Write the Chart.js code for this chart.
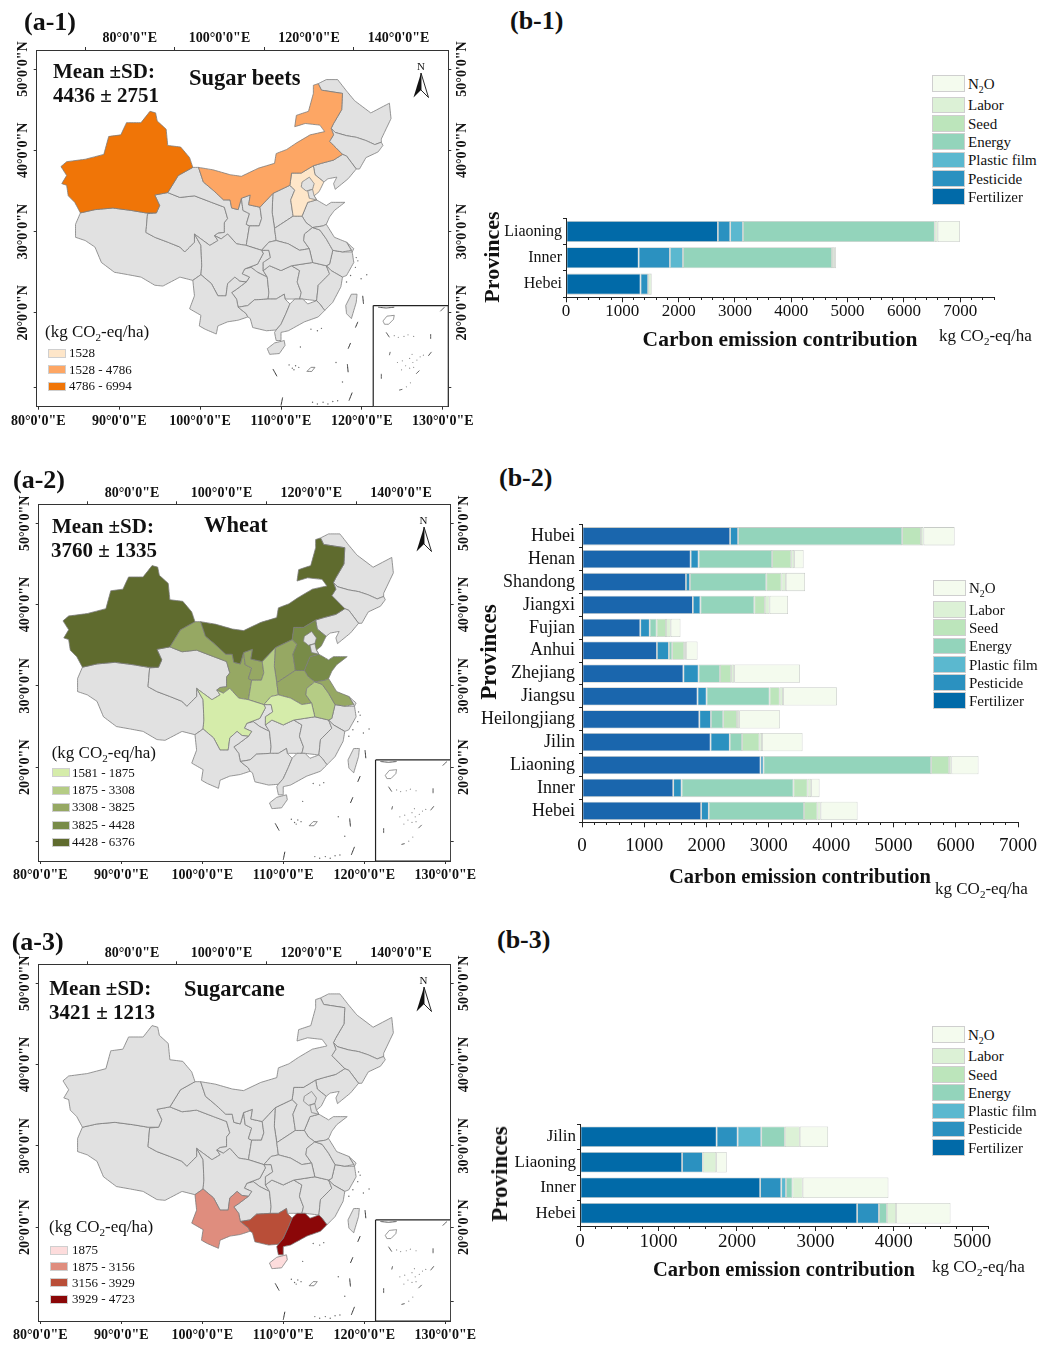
<!DOCTYPE html>
<html lang="en">
<head>
    <meta charset="UTF-8">
    <title>Carbon emission maps and contributions</title>
    <script src="https://cdn.jsdelivr.net/npm/chart.js"></script>
    <style>
        body { margin: 0; background: #fff; }
        #page { position: relative; width: 1048px; height: 1348px; overflow: hidden; font-family: "Liberation Serif", serif; color: #111; }
        canvas { position: absolute; }
        .txt { position: absolute; white-space: nowrap; transform: translateY(-50%); z-index: 2; }
        .txt sub { font-size: 65%; line-height: 0; }
        .rot { transform: translate(-50%, -50%) rotate(-90deg); }
        .swatch { position: absolute; box-sizing: border-box; border: 1px solid #cfcfcf; z-index: 2; }
        svg { position: absolute; z-index: 2; }
    </style>
</head>
<body>
<div id="page"></div>
<script>
    // stacked bars, kg CO2-eq/ha
    const seriesNames = ['Fertilizer', 'Pesticide', 'Plastic film', 'Energy', 'Seed', 'Labor', 'N2O'];
    const seriesColors = ['#016aa8', '#2b91c0', '#5bb8cf', '#93d4bb', '#bce5bb', '#dcf1d6', '#f4fbee'];

    const beetProvinces = ['Liaoning', 'Inner', 'Hebei'];
    const beetFertilizer = [2697, 1290, 1323];
    const beetPesticide = [219, 555, 135];
    const beetFilm = [226, 232, 0];
    const beetEnergy = [3406, 2646, 0];
    const beetSeed = [0, 0, 0];
    const beetLabor = [52, 38, 60];
    const beetN2O = [394, 33, 10];

    const wheatProvinces = ['Hubei', 'Henan', 'Shandong', 'Jiangxi', 'Fujian', 'Anhui', 'Zhejiang', 'Jiangsu', 'Heilongjiang', 'Jilin', 'Liaoning', 'Inner', 'Hebei'];
    const wheatFertilizer = [2378, 1744, 1669, 1779, 936, 1203, 1628, 1855, 1884, 2064, 2866, 1465, 1913];
    const wheatPesticide = [128, 128, 64, 122, 151, 192, 244, 145, 186, 308, 47, 134, 122];
    const wheatFilm = [0, 0, 0, 0, 0, 0, 0, 0, 0, 0, 0, 0, 0];
    const wheatEnergy = [2634, 1180, 1226, 866, 111, 53, 343, 1012, 197, 198, 2692, 1796, 1529];
    const wheatSeed = [302, 308, 244, 169, 151, 192, 180, 162, 221, 279, 290, 227, 215];
    const wheatLabor = [41, 47, 70, 76, 75, 29, 47, 53, 35, 41, 35, 58, 52];
    const wheatN2O = [500, 151, 308, 296, 157, 186, 1058, 866, 657, 651, 436, 134, 593];

    const caneProvinces = ['Jilin', 'Liaoning', 'Inner', 'Hebei'];
    const caneFertilizer = [1741, 1301, 2296, 3532];
    const canePesticide = [268, 264, 269, 278];
    const caneFilm = [301, 0, 60, 0];
    const caneEnergy = [301, 0, 83, 102];
    const caneSeed = [0, 0, 0, 0];
    const caneLabor = [190, 171, 130, 116];
    const caneN2O = [361, 134, 1093, 694];

    // map ticks
    const lonBottomTicks = [80, 90, 100, 110, 120, 130];
    const lonTopTicks = [70, 80, 90, 100, 110, 120, 130, 140];
    const lonTopLabelled = [80, 100, 120, 140];
    const latTicks = [50, 40, 30, 20, 10.8];
    const latLabelled = [50, 40, 30, 20];

    // province outlines as lon, lat pairs on the map's plot axes
    const xinjiang = [82.8,38, 83.5,38.6, 85.8,38.9, 88.1,39.5, 88.7,41.7, 90.2,41.9, 90.9,43.4, 92.7,43.4, 93.8,44.8, 94.5,44.6, 94.7,43.6, 95.8,42.6, 96,40.6, 97.6,40.4, 98.7,39.1, 99.1,37.9, 97.3,36.9, 96,34.8, 94.4,34.5, 95,33.2, 94.6,32.3, 93.3,32.3, 91.5,32.6, 89.2,32.9, 87,32.7, 85.2,32.3, 84.5,33.6, 83.7,34.4, 83.5,35.7, 82.9,35.9, 83.5,36.9];
    const tibet = [85.2,32.3, 87,32.7, 89.2,32.9, 91.5,32.6, 93.3,32.3, 94.6,32.3, 93.5,32.2, 93.3,29.9, 94.4,29.3, 96,28.7, 97.5,28.1, 98.1,27.5, 99.3,28.7, 99.3,29.7, 100.1,28.3, 100.2,25.8, 100.1,24.7, 99.1,24, 97.5,24.4, 95.4,23.3, 94.4,23.4, 92.7,24.4, 91.1,24.7, 89.4,25, 87.8,26.2, 87,28.1, 85.8,28.9, 84.6,29.3, 84.6,30.9];
    const qinghai = [94.4,34.5, 96,34.8, 97.5,34.2, 99.3,34.4, 101.4,33.6, 103,33, 103.4,31.6, 103,31.1, 103,29.9, 102.2,29.8, 101.8,29.5, 102.2,28.9, 101.2,28.3, 100.1,29.1, 99.3,29.7, 99.3,28.7, 98.1,27.5, 97.5,28.1, 96,28.7, 94.4,29.3, 93.3,29.9, 93.5,32.2, 94.6,32.3, 95,33.2];
    const innerMongolia = [99.8,37.9, 101.6,37.6, 103.7,37, 105.1,36.8, 107.2,37.8, 109.2,38.4, 109.4,39.6, 110.7,40.1, 111.9,40.9, 113.6,41.9, 115.4,42.3, 114.8,43.1, 113,43.3, 111.7,42.9, 111.9,44.3, 113.4,44.8, 114,47, 114,48, 114.6,48.2, 115,47.4, 117.6,47, 117.5,45, 116.5,43.3, 116.2,42.7, 116.5,41.9, 116,41.1, 117.6,39.5, 116.5,38.8, 115,38.4, 114,38.1, 112.5,37.2, 111.3,37.2, 111.1,35.7, 109,34.7, 107.4,33, 106,33.3, 106.2,34.5, 105.1,34.1, 104.7,32.7, 103.9,32.9, 103.7,33.9, 102.9,33.9, 101.6,35.1, 100.4,36.1];
    const heilongjiang = [114.6,48.2, 115.6,48.7, 117,48.7, 118.1,47.3, 119.1,46.1, 121.1,44.6, 123.4,45.8, 123.6,43.9, 122.4,41.4, 122.4,41, 121.6,40.7, 120.5,41.2, 119.3,41.6, 118.1,41.8, 116.7,42.2, 116.2,42.7, 116.5,43.3, 117.5,45, 117.6,47, 115,47.4];
    const jilin = [116.2,42.7, 116.7,42.2, 118.1,41.8, 119.3,41.6, 120.5,41.2, 121.6,40.7, 122.4,41, 122.6,40.6, 122,39.8, 120.5,39.1, 119.7,37.7, 119.3,37.7, 118.1,39.3, 117.6,39.5, 116,41.1, 116.5,41.9];
    const liaoning = [114,38.1, 115,38.4, 116.5,38.8, 117.6,39.5, 118.1,39.3, 119.3,37.7, 118.3,36.5, 116.7,35.2, 116.5,35.9, 116.9,36.7, 115.8,36.5, 115.3,36.1, 114.2,37];
    const hebei = [111.3,37.2, 112.5,37.2, 114,38.1, 114.2,37, 115.3,36.1, 114.7,34.9, 114.1,34.4, 114.4,33.9, 113.3,33.6, 112.6,31.9, 111.5,31.9, 111.2,33.9, 111.7,35.1, 111.1,35.7];
    const beijing = [112.6,36.1, 113.5,36.7, 114.1,35.9, 113.9,35.2, 113.1,35, 112.5,35.5];
    const tianjin = [113.9,35.2, 114.1,34.4, 114.4,33.9, 113.5,34.1, 113.3,35];
    const shandong = [112.6,31.9, 113.3,33.6, 114.4,33.9, 115.6,33.2, 116.2,33.6, 117.9,33.6, 116.6,32.6, 116,31.8, 115.6,30.9, 115.2,30.7, 113.9,30.5, 113.1,31.1];
    const henan = [109.2,30.4, 111.5,31.9, 112.6,31.9, 113.1,31.1, 113.9,30.5, 112.9,29.7, 112.8,28.9, 113.5,27.9, 112.3,27.7, 110.9,28.5, 109.4,28.9];
    const shanxi = [109,34.7, 111.1,35.7, 111.7,35.1, 111.2,33.9, 111.5,31.9, 109.2,30.4, 108.9,32.4];
    const shaanxi = [107.4,33, 109,34.7, 108.9,32.4, 109.2,30.4, 109.4,28.9, 108.5,28.7, 107.6,27.7, 105.7,28.3, 106.1,30.7, 107.3,30.7, 107.6,31.6];
    const ningxia = [106.2,34.5, 106,33.3, 107.4,33, 107.6,31.6, 107.3,30.7, 106.1,30.7, 105.7,30.9, 106.1,32.2, 105.3,32.6, 105.1,34.1];
    const gansu = [96,34.8, 97.3,36.9, 99.1,37.9, 99.8,37.9, 100.4,36.1, 101.6,35.1, 102.9,33.9, 103.7,33.9, 103.9,32.9, 104.7,32.7, 105.1,34.1, 105.3,32.6, 106.1,32.2, 105.7,30.9, 106.1,30.7, 105.7,28.3, 104.5,28.5, 103.4,29.7, 102.6,29.1, 101.8,29.5, 102.2,29.8, 103,29.9, 103,31.1, 103.4,31.6, 103,33, 101.4,33.6, 99.3,34.4, 97.5,34.2];
    const sichuan = [99.3,29.7, 100.1,29.1, 101.2,28.3, 102.2,28.9, 101.8,29.5, 102.6,29.1, 103.4,29.7, 104.5,28.5, 105.7,28.3, 107.6,27.7, 107.8,27.3, 107.1,26, 105.5,25.4, 105.2,24.8, 106.1,24.4, 105.7,23.8, 104.9,23.9, 104.3,24.4, 103.4,23.6, 103.2,22.1, 102.2,22.1, 101.4,23.6, 100.1,24.7, 100.2,25.8, 100.1,28.3];
    const chongqing = [107.6,27.7, 108.5,27.7, 108.7,26.8, 107.8,26.2, 107.8,25.2, 108.3,24.4, 107.1,25, 106.3,25.6, 105.5,25.4, 107.1,26, 107.8,27.3];
    const hubei = [108.5,28.7, 109.4,28.9, 110.9,28.5, 112.3,27.7, 113.5,27.9, 113.9,26.2, 111.3,25.8, 110,25.2, 108.6,25.8, 107.8,25.2, 107.8,26.2, 108.7,26.8, 108.5,27.7, 107.6,27.7];
    const guizhou = [105.7,23.8, 106.1,24.4, 105.2,24.8, 105.5,25.4, 106.3,25.6, 107.1,25, 108.3,24.4, 108.5,22.5, 108.4,21.7, 106.7,21.6, 105.9,20.9, 104.7,20.7, 104.5,21.7, 103.9,22.5, 104.5,22.9];
    const yunnan = [100.1,24.7, 101.4,23.6, 102.2,22.1, 103.2,22.1, 103.4,23.6, 104.3,24.4, 104.9,23.9, 105.7,23.8, 104.5,22.9, 103.9,22.5, 104.5,21.7, 104.7,20.7, 105.7,19.9, 105.9,19.5, 104.7,19.1, 103.4,18.9, 102.2,18.4, 102,17.4, 100.6,18, 99.9,18.4, 100.1,19.7, 98.7,20.5, 99.3,22.1, 99.1,24];
    const guangxi = [104.7,20.7, 105.9,20.9, 106.7,21.6, 108.4,21.7, 109.4,21.7, 110.4,22.3, 110.5,21.7, 111.1,21.1, 110.6,19.9, 110,18.6, 109.4,17.9, 108.2,17.8, 106.5,18.2, 106.2,19.3, 105.9,19.5, 105.7,19.9];
    const hunan = [108.6,25.8, 110,25.2, 111.3,25.8, 112.3,25.2, 112,23.8, 112.5,22.5, 112.3,21.7, 111.3,21.7, 110.5,21.7, 110.4,22.3, 109.4,21.7, 108.4,21.7, 108.5,22.5, 108.3,24.4, 107.8,25.2];
    const jiangxi = [111.3,25.8, 113.9,26.2, 115.6,25.8, 116,24.8, 114.6,23.4, 114.4,21.5, 112.7,21.7, 112.3,21.7, 112.5,22.5, 112,23.8, 112.3,25.2];
    const anhui = [112.9,29.7, 113.9,30.5, 114.8,30.2, 115.6,29.1, 116.4,27.7, 116,26, 115.6,25.8, 113.9,26.2, 113.5,27.9, 112.8,28.9];
    const jiangsu = [114.8,30.2, 113.9,30.5, 115.2,30.7, 115.6,30.9, 116.6,29.3, 118.1,28.7, 118.7,27.7, 117.6,27.5, 116.4,27.7, 115.6,29.1];
    const shanghai = [118.1,28.7, 119,27.9, 118.8,27.5, 118.7,27.7];
    const zhejiang = [116.4,27.7, 117.6,27.5, 118.8,27.5, 119,26.2, 118.1,24.6, 117.6,24.4, 116.2,25.2, 115.6,25.8, 116,26];
    const fujian = [115.6,25.8, 116.2,25.2, 117.6,24.4, 117.4,23.2, 116.4,21.3, 115.4,20.3, 114.8,21.1, 114.4,21.5, 114.6,23.4, 116,24.8];
    const guangdong = [111.1,21.1, 111.7,21.7, 112.7,21.7, 113.3,21.1, 114.4,21.5, 114.8,21.1, 115.4,20.3, 114.6,19.5, 112.9,18.9, 110.9,17.8, 110,17.6, 110,16.6, 109.4,16.6, 109.2,17.6, 109.4,17.9, 110,18.6, 110.6,19.9];
    const hainan = [108.3,15.6, 109.2,16.3, 110.4,16.6, 110.5,16, 109.8,15, 108.6,14.9];
    const taiwan = [118,20.9, 118.7,22.3, 119.4,22.3, 119.3,21.3, 118.7,19.3, 118.1,19.9];
    const allProvinces = [tibet, qinghai, heilongjiang, jilin, liaoning, shandong, shanxi, chongqing, guizhou, hunan, jiangxi, zhejiang, fujian, shanghai, taiwan, gansu, ningxia, shaanxi, henan, anhui, jiangsu, hubei, sichuan, yunnan, guangxi, guangdong, hainan, hebei, beijing, tianjin, innerMongolia, xinjiang];

    // sea marks and the inset
    const scsIsle = [113.2,12.8, 113.7,13.3, 114.2,13.3, 113.8,12.8];
    const insetBox = [121.4,20.9, 130.68,20.9, 130.68,8.46, 121.4,8.46];
    const insetHainan = [122.6,19, 123.1,19.6, 124,19.7, 123.9,19.2, 123.3,18.6, 122.8,18.6];
    const seaDashes = [
        [120.1,22.1, 120.2,21.1], [119.5,18.9, 119.2,18.2], [118.6,16.3, 118.3,15.6], [118.2,13.7, 118.3,12.7],
        [118.8,10.2, 118.4,9.2], [109,13.1, 109.5,12.2], [110.2,9.6, 110,8.6]
    ];
    const insetDashes = [
        [122,20.7, 123,20.6, 124,20.7], [123,17.6, 123.4,17], [128.5,17.4, 128.5,16.8], [123.5,15.2, 123.4,14.8],
        [128.6,15.2, 128.2,14.7], [122.4,12.5, 122.4,11.9], [127.1,12.9, 126.7,12.5], [124.6,10.5, 125,10.6], [130.2,20.7, 129.7,20.2]
    ];
    const seaDots = [111,13.6, 111.4,13.2, 111.8,13.5, 112.2,13.3, 111.6,13, 113.9,9, 114.5,8.8, 115.2,9, 115.8,8.8, 116.4,9.1, 117,9.2, 113.7,18, 114.5,17.8, 115,18.1, 112.4,15.8, 116.8,13.9, 117.6,11.5, 119.3,26.8, 119.5,26.4, 119.2,25.6, 118.6,24.6, 118.1,23.8, 119.9,24.2, 120.6,24.7];
    const insetDots = [124,17.2, 124.5,17, 125.2,17.1, 125.7,17.3, 126.4,17.1, 124.4,13.9, 125,14.1, 125.4,13.5, 125.9,14.4, 126.2,14.9, 126.3,13.9, 126.8,14.2, 127.2,14.6, 127.6,14.8, 125.9,13.2, 124.9,13, 126.4,13.3, 125.5,10.9, 126,11.4];

    // legends of the maps
    const beetClasses = ['1528', '1528 - 4786', '4786 - 6994'];
    const beetClassColors = ['#fee6c9', '#fda664', '#f07507'];
    const beetGroups = [[hebei], [innerMongolia], [xinjiang]];
    const wheatClasses = ['1581 - 1875', '1875 - 3308', '3308 - 3825', '3825 - 4428', '4428 - 6376'];
    const wheatClassColors = ['#d5ecaa', '#b5cc85', '#96a863', '#788b48', '#5f6b2e'];
    const wheatGroups = [[sichuan, hubei], [shaanxi, anhui], [gansu, ningxia, shanxi, henan, jiangsu], [hebei, shandong], [xinjiang, innerMongolia]];
    const caneClasses = ['1875', '1875 - 3156', '3156 - 3929', '3929 - 4723'];
    const caneClassColors = ['#fddcdc', '#df8d7e', '#b94e38', '#8b0708'];
    const caneGroups = [[hainan], [yunnan], [guangxi], [guangdong]];

    const page = document.getElementById('page');
    const serif = '"Liberation Serif", serif';
    const co2 = 'kg CO<sub>2</sub>-eq/ha';

    function addText(html, x, y, size, bold) {
        const el = document.createElement('div');
        el.className = 'txt';
        el.innerHTML = html;
        el.style.left = x + 'px';
        el.style.top = y + 'px';
        el.style.fontSize = size + 'px';
        el.style.fontWeight = bold ? 'bold' : 'normal';
        page.appendChild(el);
        return el;
    }

    function addSwatch(x, y, w, h, color) {
        const el = document.createElement('div');
        el.className = 'swatch';
        el.style.cssText = `left:${x}px;top:${y}px;width:${w}px;height:${h}px;background:${color}`;
        page.appendChild(el);
    }

    function addCanvas(left, top, width, height) {
        const c = document.createElement('canvas');
        c.width = width;
        c.height = height;
        c.style.left = left + 'px';
        c.style.top = top + 'px';
        page.appendChild(c);
        return c;
    }

    function northArrow(cx, y) {
        const svg = `<svg style="left:${cx - 8}px;top:${y}px" width="16" height="25" viewBox="0 0 16 25">
            <polygon points="8,0 8,17 0.5,24.5" fill="#111"/>
            <polygon points="8,0 8,17 15.5,24.5" fill="#fff" stroke="#111" stroke-width="0.9"/></svg>`;
        page.insertAdjacentHTML('beforeend', svg);
        addText('N', cx - 4, y - 7, 11, false);
    }

    function toPoints(flat, close) {
        const pts = [];
        for (let i = 0; i < flat.length; i += 2) {
            pts.push({ x: flat[i], y: flat[i + 1] });
        }
        if (close) pts.push(pts[0]);
        return pts;
    }

    // a tiny tension keeps Chart.js off its fast path, which merges points in one pixel column
    function polygon(flat, fillColor, lineColor, lineWidth) {
        return {
            data: toPoints(flat, true), showLine: true, fill: 'shape', tension: 0.0001, capBezierPoints: false,
            backgroundColor: fillColor, borderColor: lineColor, borderWidth: lineWidth,
            pointRadius: 0, xAxisID: 'x', yAxisID: 'y'
        };
    }

    function stroke(flat, lineColor, lineWidth) {
        return {
            data: toPoints(flat, false), showLine: true, fill: false, tension: 0.0001, capBezierPoints: false,
            borderColor: lineColor, borderWidth: lineWidth,
            pointRadius: 0, xAxisID: 'x', yAxisID: 'y'
        };
    }

    function dots(flat, color, radius) {
        return {
            data: toPoints(flat, false), showLine: false, pointRadius: radius,
            pointBackgroundColor: color, pointBorderWidth: 0, xAxisID: 'x', yAxisID: 'y'
        };
    }

    function mapChart(frame, groups, classColors) {
        const canvasTop = Math.round(frame.top) - 26;
        const canvasHeight = Math.round(frame.bottom - canvasTop) + 26;
        const c = addCanvas(0, canvasTop, 480, canvasHeight);
        const datasets = [];
        allProvinces.forEach(p => {
            const k = groups.findIndex(g => g.includes(p));
            const fillColor = k >= 0 ? classColors[k] : '#e1e1e1';
            datasets.push(polygon(p, fillColor, '#7b7b7b', 0.8));
        });
        seaDashes.forEach(d => datasets.push(stroke(d, '#333', 1)));
        datasets.push(polygon(scsIsle, '#fff', '#555', 0.7));
        datasets.push(dots(seaDots, '#666', 0.7));
        datasets.push(polygon(insetBox, '#fff', '#222', 1.2));
        datasets.push(polygon(insetHainan, '#fff', '#666', 0.7));
        insetDashes.forEach(d => datasets.push(stroke(d, '#444', 0.9)));
        datasets.push(dots(insetDots, '#888', 0.6));
        // Chart.js paints the last dataset first
        datasets.reverse();

        const tickFont = { family: serif, size: 14, weight: 'bold' };
        const border = { display: true, color: '#333', width: 1 };
        const setTicks = values => scale => { scale.ticks = values.map(v => ({ value: v })); };
        const latLabel = v => latLabelled.includes(v) ? v + "°0'0\"N" : '';
        const latAxis = position => ({
            type: 'linear', position: position, min: 8.46, max: 52.34,
            afterBuildTicks: setTicks(latTicks),
            afterFit: s => { s.width = position === 'left' ? frame.left : 480 - frame.right; },
            border: border,
            grid: { drawOnChartArea: false, tickLength: 3, tickColor: '#333' },
            ticks: { font: tickFont, color: '#111', minRotation: 90, maxRotation: 90, crossAlign: 'center', padding: -17, autoSkip: false, callback: latLabel }
        });
        return new Chart(c, {
            type: 'scatter',
            data: { datasets: datasets },
            options: {
                responsive: false, animation: false,
                layout: { autoPadding: false, padding: 0 },
                plugins: { legend: { display: false }, tooltip: { enabled: false } },
                scales: {
                    x: {
                        type: 'linear', position: 'bottom', min: 79.8, max: 130.68,
                        afterBuildTicks: setTicks(lonBottomTicks),
                        afterFit: s => { s.height = canvasTop + canvasHeight - frame.bottom; },
                        border: border,
                        grid: { drawOnChartArea: false, tickLength: 3, tickColor: '#333' },
                        ticks: { font: tickFont, color: '#111', maxRotation: 0, padding: 3, autoSkip: false, callback: v => v + "°0'0\"E" }
                    },
                    xTop: {
                        type: 'linear', axis: 'x', position: 'top', min: 59.2, max: 151.1,
                        afterBuildTicks: setTicks(lonTopTicks),
                        afterFit: s => { s.height = frame.top - canvasTop; },
                        border: border,
                        grid: {
                            drawOnChartArea: false, tickLength: 3,
                            tickColor: ctx => ctx.tick && lonTopLabelled.includes(ctx.tick.value) ? 'transparent' : '#333'
                        },
                        ticks: {
                            font: tickFont, color: '#111', maxRotation: 0, padding: 0, autoSkip: false,
                            callback: v => lonTopLabelled.includes(v) ? v + "°0'0\"E" : ''
                        }
                    },
                    y: latAxis('left'),
                    yRight: latAxis('right')
                }
            }
        });
    }

    function mapLegend(classes, colors, x, ys, textX) {
        classes.forEach((name, i) => {
            addSwatch(x, ys[i] - 4.5, 18, 9, colors[i]);
            addText(name, textX, ys[i], 13, false);
        });
    }

    function barChart(cfg) {
        const c = addCanvas(480, cfg.top, 568, cfg.height);
        const datasets = seriesNames.map((name, i) => ({
            label: name,
            data: cfg.values[i],
            backgroundColor: i === 0 && cfg.fertilizerColor ? cfg.fertilizerColor : seriesColors[i],
            borderColor: 'rgba(130,140,130,0.45)',
            borderWidth: 0.8,
            borderSkipped: false,
            barPercentage: 0.8,
            categoryPercentage: 1
        }));
        return new Chart(c, {
            type: 'bar',
            data: { labels: cfg.provinces, datasets: datasets },
            options: {
                indexAxis: 'y', responsive: false, animation: false,
                layout: { autoPadding: false, padding: { top: cfg.areaTop - cfg.top, right: 1048 - cfg.areaRight } },
                plugins: { legend: { display: false }, tooltip: { enabled: false } },
                scales: {
                    x: {
                        stacked: true, min: 0, max: cfg.max,
                        afterFit: s => { s.height = cfg.top + cfg.height - cfg.areaBottom; },
                        border: { display: true, color: '#222', width: 1 },
                        grid: {
                            drawOnChartArea: false, tickLength: 5, tickColor: '#222',
                            tickBorderDash: ctx => ctx.tick && ctx.tick.value % 1000 === 0 ? [] : [2, 50]
                        },
                        ticks: {
                            stepSize: 200, autoSkip: false, maxRotation: 0, color: '#111', padding: cfg.xPad,
                            font: { family: serif, size: cfg.xSize },
                            callback: v => v % 1000 === 0 ? v : ''
                        },
                        title: {
                            display: true, text: 'Carbon emission contribution', color: '#111',
                            font: { family: serif, size: cfg.titleSize, weight: 'bold' },
                            padding: { top: 0, bottom: cfg.top + cfg.height - cfg.titleY - cfg.titleSize * 0.6 }
                        }
                    },
                    y: {
                        stacked: true,
                        afterFit: s => { s.width = cfg.areaLeft - 480; },
                        border: { display: true, color: '#222', width: 1 },
                        grid: { drawOnChartArea: false, tickLength: 3, tickColor: '#222' },
                        ticks: { color: '#111', padding: cfg.yPad, autoSkip: false, font: { family: serif, size: cfg.ySize } }
                    }
                }
            }
        });
    }

    function barLegend(x, ys, textX) {
        const names = ['N<sub>2</sub>O', 'Labor', 'Seed', 'Energy', 'Plastic film', 'Pesticide', 'Fertilizer'];
        names.forEach((name, i) => {
            addSwatch(x, ys[i], 33, 16.5, seriesColors[seriesColors.length - 1 - i]);
            addText(name, textX, ys[i] + 8.5, 15, false);
        });
    }

    // a-1
    mapChart({ left: 36.7, right: 448.3, top: 50, bottom: 406.7 }, beetGroups, beetClassColors);
    addText('(a-1)', 24, 22, 26, true);
    addText('Mean ±SD:', 53, 71, 21, true);
    addText('4436 ± 2751', 53, 95, 21, true);
    addText('Sugar beets', 189, 78, 22.5, true);
    addText('(' + co2 + ')', 45, 332, 17, false);
    mapLegend(beetClasses, beetClassColors, 48, [353, 369.5, 386], 69);
    northArrow(421, 73);

    // a-2
    mapChart({ left: 38.7, right: 450.7, top: 504.3, bottom: 861 }, wheatGroups, wheatClassColors);
    addText('(a-2)', 13, 480, 26, true);
    addText('Mean ±SD:', 52, 525.7, 21, true);
    addText('3760 ± 1335', 51, 550, 21, true);
    addText('Wheat', 204, 525, 22.5, true);
    addText('(' + co2 + ')', 51.7, 753, 17, false);
    mapLegend(wheatClasses, wheatClassColors, 52, [772.7, 790, 807.3, 825, 842.3], 72);
    northArrow(423.5, 527);

    // a-3
    mapChart({ left: 38.7, right: 450.7, top: 964.3, bottom: 1321 }, caneGroups, caneClassColors);
    addText('(a-3)', 11.7, 941.7, 26, true);
    addText('Mean ±SD:', 49.3, 988, 21, true);
    addText('3421 ± 1213', 49, 1011.7, 21, true);
    addText('Sugarcane', 184, 989, 22.5, true);
    addText('(' + co2 + ')', 49, 1226.7, 17, false);
    mapLegend(caneClasses, caneClassColors, 50, [1250, 1266.7, 1282.7, 1299.3], 72);
    northArrow(423.5, 987);

    // b-1
    barChart({
        top: 205, height: 160, areaTop: 218.3, areaBottom: 297.3, areaLeft: 566, areaRight: 994, max: 7600,
        provinces: beetProvinces,
        values: [beetFertilizer, beetPesticide, beetFilm, beetEnergy, beetSeed, beetLabor, beetN2O],
        xSize: 17, ySize: 16, xPad: -1, yPad: 1, titleSize: 21.5, titleY: 340
    });
    addText('(b-1)', 510, 21, 26, true);
    barLegend(932, [75, 96.5, 115, 133.3, 151.5, 170, 188], 968);
    addText(co2, 939, 336, 17, false);
    addText('Provinces', 492, 257, 22, true).classList.add('rot');

    // b-2
    barChart({
        top: 510, height: 390, areaTop: 523.3, areaBottom: 822.3, areaLeft: 582, areaRight: 1018, max: 7000,
        provinces: wheatProvinces,
        values: [wheatFertilizer, wheatPesticide, wheatFilm, wheatEnergy, wheatSeed, wheatLabor, wheatN2O],
        fertilizerColor: '#1a66ad',
        xSize: 19, ySize: 18, xPad: 7, yPad: 4, titleSize: 20.5, titleY: 878
    });
    addText('(b-2)', 499, 478, 26, true);
    barLegend(933, [579.5, 601, 619.3, 637.7, 656, 674, 692.3], 969);
    addText(co2, 935, 889, 17, false);
    addText('Provinces', 489, 652, 23, true).classList.add('rot');

    // b-3
    barChart({
        top: 1110, height: 180, areaTop: 1124, areaBottom: 1226, areaLeft: 580, areaRight: 988, max: 5200,
        provinces: caneProvinces,
        values: [caneFertilizer, canePesticide, caneFilm, caneEnergy, caneSeed, caneLabor, caneN2O],
        xSize: 19, ySize: 17, xPad: 0, yPad: 1, titleSize: 20.5, titleY: 1271
    });
    addText('(b-3)', 497, 940, 26, true);
    barLegend(932, [1026, 1047.7, 1066, 1084.3, 1102.7, 1120.7, 1139], 968);
    addText(co2, 932, 1267, 17, false);
    addText('Provinces', 500, 1174, 23, true).classList.add('rot');
</script>
</body>
</html>
